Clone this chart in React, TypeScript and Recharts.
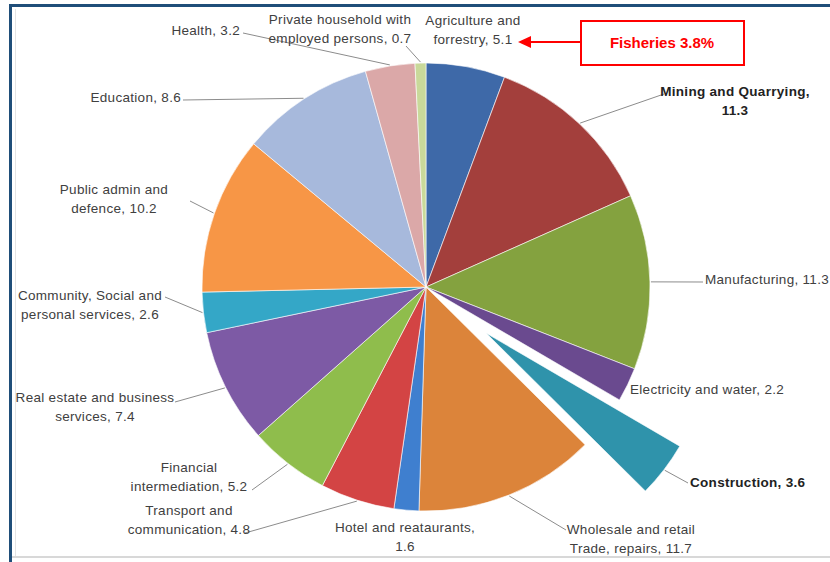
import React from "react";
import { PieChart, Pie, Cell, Sector } from "recharts";

const sectors = [
  "Agriculture and forrestry",
  "Mining and Quarrying",
  "Manufacturing",
  "Electricity and water",
  "Construction",
  "Wholesale and retail Trade, repairs",
  "Hotel and reataurants",
  "Transport and communication",
  "Financial intermediation",
  "Real estate and business services",
  "Community, Social and personal services",
  "Public admin and defence",
  "Education",
  "Health",
  "Private household with employed persons",
];
const shares = [5.1, 11.3, 11.3, 2.2, 3.6, 11.7, 1.6, 4.8, 5.2, 7.4, 2.6, 10.2, 8.6, 3.2, 0.7];
const sectorColors = [
  "#3e69a8", "#a33f3c", "#84a23f", "#6a4a8f", "#2f93ab",
  "#dc843a", "#3f7fcf", "#d34444", "#8fbd4c", "#7d5aa5",
  "#34a7c7", "#f79646", "#a7b9dc", "#dba8a8", "#c9d99a",
];
const explodedSector = "Construction";
const boldSectors = ["Mining and Quarrying", "Construction"];
const calloutText = "Fisheries 3.8%";

const data = sectors.map((name, i) => ({ name, value: shares[i] }));

// label placement: text anchor x, first baseline y, words on first line, leader end point
type Lay = { x: number; y: number; anchor: "start" | "middle" | "end"; words?: number; lx?: number; ly?: number };
const LABEL_LAYOUT: Record<string, Lay> = {
  "Agriculture and forrestry": { x: 473, y: 25, anchor: "middle", words: 2 },
  "Mining and Quarrying": { x: 735, y: 96, anchor: "middle", words: 3, lx: 664, ly: 94 },
  Manufacturing: { x: 705, y: 284, anchor: "start", lx: 703, ly: 282 },
  "Electricity and water": { x: 630, y: 394, anchor: "start" },
  Construction: { x: 690, y: 487, anchor: "start", lx: 688, ly: 483 },
  "Wholesale and retail Trade, repairs": { x: 631, y: 534, anchor: "middle", words: 3, lx: 566, ly: 530 },
  "Hotel and reataurants": { x: 405, y: 532, anchor: "middle", words: 3 },
  "Transport and communication": { x: 189, y: 515, anchor: "middle", words: 2, lx: 245, ly: 533 },
  "Financial intermediation": { x: 189, y: 472, anchor: "middle", words: 1, lx: 252, ly: 490 },
  "Real estate and business services": { x: 95, y: 402, anchor: "middle", words: 4, lx: 175, ly: 402 },
  "Community, Social and personal services": { x: 90, y: 300, anchor: "middle", words: 3, lx: 165, ly: 297 },
  "Public admin and defence": { x: 114, y: 194, anchor: "middle", words: 3, lx: 190, ly: 201 },
  Education: { x: 181, y: 102, anchor: "end", lx: 183, ly: 100 },
  Health: { x: 240, y: 35, anchor: "end", lx: 243, ly: 33 },
  "Private household with employed persons": { x: 340, y: 24, anchor: "middle", words: 3, lx: 406, ly: 46 },
};

const RADIAN = Math.PI / 180;
const EXPLODE = 76;
const CX = 426;
const CY = 287;
const R = 224;
const FONT = "'Liberation Sans', Arial, sans-serif";

function shift(midAngle: number, dist: number) {
  return { dx: dist * Math.cos(-midAngle * RADIAN), dy: dist * Math.sin(-midAngle * RADIAN) };
}

const renderSlice = (props: any) => {
  const name = props.payload?.name ?? props.name;
  const { dx, dy } = name === explodedSector ? shift(props.midAngle, EXPLODE) : { dx: 0, dy: 0 };
  return (
    <Sector
      cx={props.cx + dx}
      cy={props.cy + dy}
      innerRadius={props.innerRadius}
      outerRadius={props.outerRadius}
      startAngle={props.startAngle}
      endAngle={props.endAngle}
      fill={props.fill}
      stroke="#ffffff"
      strokeWidth={0.6}
    />
  );
};

const renderLabel = (props: any) => {
  const name = props.payload?.name ?? props.name;
  const value = props.payload?.value ?? props.value;
  const lay = LABEL_LAYOUT[name];
  if (!lay) return null;
  const full = `${name}, ${value}`.split(" ");
  const k = lay.words ?? full.length;
  const lines = [full.slice(0, k).join(" "), full.slice(k).join(" ")].filter((s) => s);
  const extra = name === explodedSector ? EXPLODE : 0;
  const p = shift(props.midAngle, props.outerRadius + extra + 1);
  const bold = boldSectors.includes(name);
  return (
    <g>
      {lay.lx !== undefined && (
        <line x1={props.cx + p.dx} y1={props.cy + p.dy} x2={lay.lx} y2={lay.ly} stroke="#8c8c8c" strokeWidth={1} />
      )}
      <text
        x={lay.x}
        y={lay.y}
        textAnchor={lay.anchor}
        fontSize={13.5}
        letterSpacing={0.3}
        fontWeight={bold ? 700 : 400}
        fill={bold ? "#222" : "#404040"}
        fontFamily={FONT}
      >
        {lines.map((t, i) => (
          <tspan key={i} x={lay.x} dy={i === 0 ? 0 : 19}>
            {t}
          </tspan>
        ))}
      </text>
    </g>
  );
};

export default function App() {
  return (
    <div style={{ position: "relative", width: 830, height: 562, background: "#fff", overflow: "hidden" }}>
      <style>{"body{margin:0}"}</style>
      <div style={{ position: "absolute", left: 9, top: 4, width: 821, height: 3, background: "#1f4e79" }} />
      <div style={{ position: "absolute", left: 9, top: 4, width: 3, height: 558, background: "#1f4e79" }} />
      <div style={{ position: "absolute", left: 15, top: 9, width: 1, height: 548, background: "#e4e4e4" }} />
      <div style={{ position: "absolute", left: 12, top: 556, width: 818, height: 2, background: "#d8d8d8" }} />
      <div style={{ position: "absolute", left: 0, top: 0 }}>
        <PieChart width={830} height={562} margin={{ top: 0, right: 0, bottom: 0, left: 0 }}>
          <Pie
            data={data}
            dataKey="value"
            nameKey="name"
            cx={CX}
            cy={CY}
            outerRadius={R}
            startAngle={90}
            endAngle={-270}
            shape={renderSlice}
            label={renderLabel}
            labelLine={false}
            isAnimationActive={false}
          >
            {data.map((d, i) => (
              <Cell key={d.name} fill={sectorColors[i]} />
            ))}
          </Pie>
        </PieChart>
      </div>
      <svg width={830} height={562} style={{ position: "absolute", left: 0, top: 0, pointerEvents: "none" }}>
        <line x1={581} y1={42} x2={528} y2={42} stroke="#ff0000" strokeWidth={2} />
        <polygon points="518,42 531,36 531,48" fill="#ff0000" />
        <rect x={581} y={21} width={163} height={44} fill="#fff" stroke="#ff0000" strokeWidth={2} />
        <text x={662} y={48} textAnchor="middle" fontSize={15} fontWeight={700} fill="#ff0000" fontFamily={FONT}>
          {calloutText}
        </text>
      </svg>
    </div>
  );
}
